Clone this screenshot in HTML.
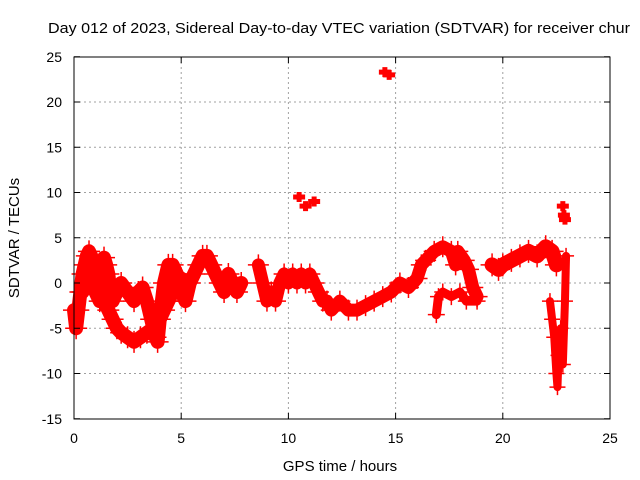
<!DOCTYPE html>
<html><head><meta charset="utf-8"><style>
body{margin:0;background:#fff;overflow:hidden}
svg{display:block;font-family:"Liberation Sans",sans-serif}
</style></head><body>
<svg id="chart" width="640" height="480">
<text x="48" y="33" font-size="15" textLength="582" lengthAdjust="spacingAndGlyphs">Day 012 of 2023, Sidereal Day-to-day VTEC variation (SDTVAR) for receiver chur</text>
<g id="grid"></g><g id="series"></g><g id="axes"></g>
<text x="340" y="471" font-size="15" text-anchor="middle">GPS time / hours</text>
<text transform="translate(19,238) rotate(-90)" font-size="15" text-anchor="middle">SDTVAR / TECUs</text>
</svg>
<script>
const xTicks=[0,5,10,15,20,25];
const yTicks=[-15,-10,-5,0,5,10,15,20,25];
const trackAHours=[0,0.1,0.2,0.3,0.4,0.5,0.6,0.7,0.8,0.9,1.0,1.1,1.2,1.3,1.4,1.5,1.6,1.7,1.8,2.0,2.2,2.5,2.8,3.0,3.2,3.4,3.6,3.8,3.9,4.0,4.2,4.4,4.6,4.8,5.0,5.2,5.4,5.6,5.8,6.0,6.2,6.4,6.6,6.8,7.0,7.2,7.4,7.6,7.8];
const trackAValues=[-3,-5,-3,-1,1,2,3,3.5,3,2,0,-1,0,2,2.8,2,1,-1,-2,-1,0,-1,-2,-1,-0.5,-2,-4,-6,-6.5,-4,0,2,2,1,-1,-2,0,1,2,3,3,2,1,0,-1,1,0,-1,0];
const trackBHours=[0.4,0.6,0.8,1.0,1.2,1.4,1.6,1.8,2.0,2.2,2.5,2.8,3.1,3.4,3.7,4.0,4.2,4.4,4.6,4.8,5.0];
const trackBValues=[-1,0,1,-1,-2,-2,-3,-4,-5,-5.5,-6,-6.5,-6,-5.5,-5,-4,-3,-2,-1,0,0.5];
const trackCHours=[8.6,8.8,9.0,9.2,9.4,9.6,9.8,10.0,10.2,10.4,10.6,10.8,11.0,11.2,11.4,11.6,11.8,12.0,12.4,12.8,13.2,13.6,14.0,14.4,14.8,15.2,15.6,16.0,16.2,16.4,16.8,17.2,17.6,17.8,17.9,18.2,18.4,18.6,18.8];
const trackCValues=[2,0,-2,-1,-2,0,1,0,1,0,1,0,1,0,-1,-2,-2,-3,-2,-3,-3,-2.5,-2,-1.5,-1,0,-0.5,0.5,2,2.5,3.5,4,3.5,2,3.5,2.5,1.5,-0.5,-1.5];
const trackDHours=[16.9,17.0,17.2,17.6,18.0,18.3,18.8];
const trackDValues=[-3.5,-1.5,-1,-1.5,-1,-2,-2];
const trackEHours=[19.5,19.8,20.0,20.4,20.8,21.2,21.6,22.0,22.3,22.5];
const trackEValues=[2,1.5,2,2.5,3,3.5,3,4,3.5,2];
const trackFHours=[22.2,22.3,22.4,22.5,22.55,22.6,22.7,22.8,22.9,22.95];
const trackFValues=[-2,-4,-6,-10,-11.5,-8,-5,-9,-2,3];
const islandHours=[10.5,10.8,11.2,14.5,14.7,22.8,22.85,22.9];
const islandValues=[9.5,8.5,9,23.3,23,8.5,7.5,7];
const NS='http://www.w3.org/2000/svg';
const X=t=>74+t*(536/25), Y=v=>283-v*(362/40);
function mk(tag,attrs,parent){const e=document.createElementNS(NS,tag);for(const k in attrs)e.setAttribute(k,attrs[k]);parent.appendChild(e);return e;}
const grid=document.getElementById('grid'),axes=document.getElementById('axes'),series=document.getElementById('series');
xTicks.forEach(t=>{
 if(t>0&&t<25){const l=mk('line',{x1:X(t),x2:X(t),y1:57,y2:419,stroke:'#a0a0a0','stroke-dasharray':'2,3'},grid);
 
 }
 const tx=mk('text',{x:X(t),y:443,'font-size':14,'text-anchor':'middle'},axes);tx.textContent=t;
 
 
 mk('line',{x1:X(t),x2:X(t),y1:419,y2:413,stroke:'#000'},axes);mk('line',{x1:X(t),x2:X(t),y1:57,y2:63,stroke:'#000'},axes);
});
yTicks.forEach(v=>{
 if(v>-15&&v<25){const l=mk('line',{x1:74,x2:610,y1:Y(v),y2:Y(v),stroke:'#a0a0a0','stroke-dasharray':'2,3'},grid);
 
 }
 const tx=mk('text',{x:62,y:Y(v)+5,'font-size':14,'text-anchor':'end'},axes);tx.textContent=v;
 
 
 mk('line',{x1:74,x2:80,y1:Y(v),y2:Y(v),stroke:'#000'},axes);mk('line',{x1:610,x2:604,y1:Y(v),y2:Y(v),stroke:'#000'},axes);
});
const frame=mk('rect',{x:74,y:57,width:536,height:362,fill:'none',stroke:'#000'},axes);


function track(hs,vs,name,w){
 const pts=hs.map((h,i)=>X(h)+','+Y(vs[i])).join(' ');
 const p=mk('polyline',{points:pts,fill:'none',stroke:'#f00','stroke-width':w,'stroke-linejoin':'round','stroke-linecap':'round'},series);
 
 
 hs.forEach((h,i)=>{const x=X(h),y=Y(vs[i]);
  const m=mk('path',{d:`M${x-w/2-4} ${y}h${w+8}M${x} ${y-w/2-4}v${w+8}`,stroke:'#f00','stroke-width':1.5},series);
  
  });
}
track(trackAHours,trackAValues,'track-a',14);
track(trackBHours,trackBValues,'track-b',14);
track(trackCHours,trackCValues,'track-c',13);
track(trackDHours,trackDValues,'track-d',9);
track(trackEHours,trackEValues,'track-e',15);
track(trackFHours,trackFValues,'track-f',8);
islandHours.forEach((h,i)=>{const x=X(h),y=Y(islandValues[i]);
 const m=mk('path',{d:`M${x-6} ${y}h12M${x} ${y-5}v10`,stroke:'#f00','stroke-width':5},series);
 
 });
</script>
</body></html>
